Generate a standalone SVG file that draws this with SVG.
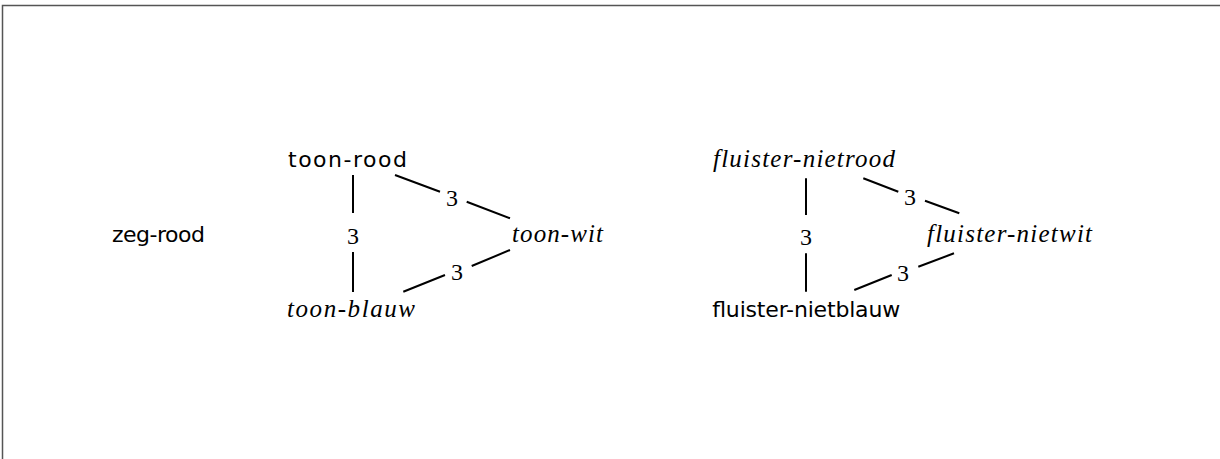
<svg xmlns="http://www.w3.org/2000/svg" width="1220" height="459" viewBox="0 0 1220 459">
<style>
.frame{fill:none;stroke:#555;stroke-width:1.5}
.e{stroke:#000;stroke-width:2;fill:none}
.sans{font-family:"DejaVu Sans","Liberation Sans",sans-serif;font-size:22px;fill:#000}
.math{font-family:"Liberation Serif","DejaVu Serif",serif;font-style:italic;font-size:25px;fill:#000}
.num{font-family:"Liberation Serif","DejaVu Serif",serif;font-size:24px;fill:#000;text-anchor:middle}
</style>
<rect width="1220" height="459" fill="#fff"/>
<path class="frame" d="M2.5,459 V5.5 H1220"/>
<g id="zeg-rood"><text class="sans" x="112" y="242" textLength="93" lengthAdjust="spacing">zeg-rood</text></g>
<g id="toon-rood"><text class="sans" x="288" y="167" textLength="119" lengthAdjust="spacing">toon-rood</text></g>
<g id="toon-wit"><text class="math" x="512" y="242" textLength="91" lengthAdjust="spacing">toon-wit</text></g>
<g id="toon-blauw"><text class="math" x="287" y="317" textLength="128" lengthAdjust="spacing">toon-blauw</text></g>
<g id="fluister-nietrood"><text class="math" x="713" y="167" textLength="182" lengthAdjust="spacing">fluister-nietrood</text></g>
<g id="fluister-nietwit"><text class="math" x="927" y="242" textLength="165" lengthAdjust="spacing">fluister-nietwit</text></g>
<g id="fluister-nietblauw"><text class="sans" x="712" y="317" textLength="188" lengthAdjust="spacing">fluister-nietblauw</text></g>
<g id="connectors">
<g id="e1"><path class="e" d="M353,175 V213 M353,252 V292"/><text class="num" x="353" y="244">3</text></g>
<g id="e2"><path class="e" d="M395,175 L440,191.7 M466.7,201.7 L510,218.3"/><text class="num" x="452" y="206">3</text></g>
<g id="e3"><path class="e" d="M403.3,291.7 L445,275 M471.7,266 L510,250"/><text class="num" x="457" y="280">3</text></g>
<g id="e4"><path class="e" d="M806,178.3 V215 M806,253.3 V291.7"/><text class="num" x="806" y="245">3</text></g>
<g id="e5"><path class="e" d="M863.3,178.3 L898.3,191.7 M925,200.7 L959.3,213.3"/><text class="num" x="910" y="205">3</text></g>
<g id="e6"><path class="e" d="M854.3,290 L891.7,275 M918.3,266.7 L954,253.3"/><text class="num" x="903" y="281">3</text></g>
</g>
</svg>
